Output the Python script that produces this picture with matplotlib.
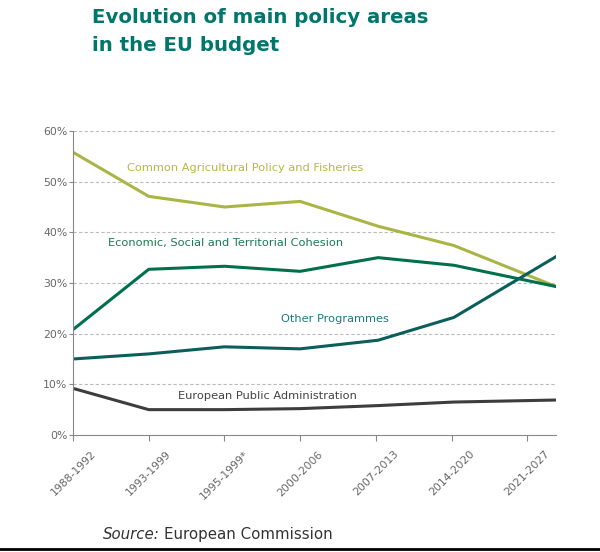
import numpy as np
import matplotlib
matplotlib.use("Agg")
import matplotlib.pyplot as plt
from matplotlib.ticker import FuncFormatter

# periods on the x axis
periods = ["1988-1992", "1993-1999", "1995-1999*", "2000-2006", "2007-2013", "2014-2020", "2021-2027"]
# the last point sits a bit past the last tick in the original chart
x_pos = [0, 1, 2, 3, 4.03, 5.03, 6.38]

cap = [55.8, 47.1, 45.0, 46.1, 41.2, 37.4, 29.3]
cohesion = [20.8, 32.7, 33.3, 32.3, 35.0, 33.5, 29.3]
other = [15.0, 16.0, 17.4, 17.0, 18.7, 23.2, 35.2]
admin = [9.2, 5.0, 5.0, 5.2, 5.8, 6.5, 6.9]

plt.rcParams['font.family'] = ['DejaVu Sans']

fig = plt.figure(figsize=(6, 5.52), dpi=100)
ax = fig.add_axes([0.1217, 0.212, 0.805, 0.5507])

ax.plot(x_pos, cap, color="#a9b544", lw=2.2, solid_joinstyle="round")
ax.plot(x_pos, cohesion, color="#00704a", lw=2.2, solid_joinstyle="round")
ax.plot(x_pos, other, color="#0a5f5a", lw=2.2, solid_joinstyle="round")
ax.plot(x_pos, admin, color="#3d3d3d", lw=2.2, solid_joinstyle="round")

# labels on the lines
ax.text(0.71, 52.7, "Common Agricultural Policy and Fisheries", color="#b3bb3a", fontsize=8.2, va="center")
ax.text(0.46, 37.8, "Economic, Social and Territorial Cohesion", color="#1b7a52", fontsize=8.2, va="center")
ax.text(2.75, 22.8, "Other Programmes", color="#1d7a7e", fontsize=8.2, va="center")
ax.text(1.39, 7.7, "European Public Administration", color="#444444", fontsize=8.2, va="center")

ax.set_xlim(0, 6.38)
ax.set_ylim(0, 60)
ax.set_yticks(np.arange(0, 61, 10))
ax.yaxis.set_major_formatter(FuncFormatter(lambda v, p: f"{v:.0f}%"))
ax.set_xticks(range(len(periods)))
ax.set_xticklabels(periods, rotation=45, ha="center", fontsize=7.8, color="#666666")
ax.tick_params(axis="y", labelsize=7.8, labelcolor="#666666", length=3, color="#888888", pad=1)
ax.tick_params(axis="x", length=4, color="#888888", pad=6)

for y in range(10, 61, 10):
    ax.axhline(y, color="#bbbbbb", lw=0.8, ls=(0, (3, 2)), zorder=0)

for s in ["top", "right"]:
    ax.spines[s].set_visible(False)
ax.spines["left"].set_color("#888888")
ax.spines["bottom"].set_color("#888888")

fig.text(0.153, 0.968, "Evolution of main policy areas", fontsize=14.2, fontweight="bold", color="#00776a", va="center")
fig.text(0.153, 0.917, "in the EU budget", fontsize=14.2, fontweight="bold", color="#00776a", va="center")

fig.text(0.172, 0.032, "Source:", fontsize=10.8, style="italic", color="#333333", va="center")
fig.text(0.273, 0.032, "European Commission", fontsize=10.8, color="#333333", va="center")

# border line at the bottom
fig.add_artist(plt.Line2D([0, 1], [0.005, 0.005], color="black", lw=2, transform=fig.transFigure))

fig.savefig("out.png", dpi=100)
